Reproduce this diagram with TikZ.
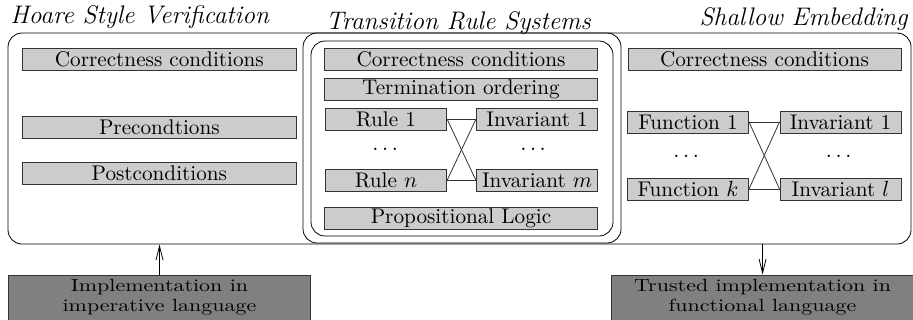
\documentclass[tikz,border=0pt]{standalone}
\usepackage{amsmath}
\usepackage{amssymb}
\usepackage{tikz}
\usepackage{xcolor}
\usetikzlibrary{positioning, arrows.meta}

\newcommand{\squashed}[1]{\scalebox{1.1}[0.88]{#1}}

\begin{document}
\begin{tikzpicture}[
                font=\fontsize{10.6}{12.7}\selectfont,
                cond_box/.style={rectangle, fill=black!20, draw=black!80, minimum height=11pt, inner sep=0pt, align=center},
                wide_box/.style={cond_box, minimum width=4.8cm},
                half_box/.style={cond_box, minimum width=2.13cm},
                impl_box/.style={rectangle, fill=black!50, draw=black!80, minimum width=5.3cm, minimum height=0.79cm, inner sep=0pt, align=center, font=\fontsize{10}{12}\selectfont},
                frame_box/.style={rectangle, draw, rounded corners=7pt, inner sep=0pt},
                title_text/.style={font=\fontsize{12.7}{15}\selectfont\itshape, inner sep=0pt},
                cross_line/.style={draw=black!80},
                impl_flow/.style={-{Straight Barb[length=7pt,width=3.5pt]}}
            ]
                \useasboundingbox (0,0) rectangle (16.044,-5.623);

                % Frames
                \node[frame_box, minimum width=15.868cm, minimum height=3.708cm] (env) at (8.075,-2.434) {};
                \node[frame_box, minimum width=5.588cm, minimum height=3.69cm] (trs_outer) at (8.119,-2.425) {};
                \node[frame_box, minimum width=5.307cm, minimum height=3.427cm] (trs_inner) at (8.119,-2.434) {};

                % Titles
                \node[title_text, anchor=base west] (hoare_title) at (0.176,-0.42) {Hoare Style Verification};
                \node[title_text, anchor=base west] (trs_title) at (5.72,-0.51) {Transition Rule Systems};
                \node[title_text, anchor=base east] (shallow_title) at (15.956,-0.44) {Shallow Embedding};

                % Hoare Style (Left)
                \node[wide_box] (h_corr) at (2.80,-1.040) {Correctness conditions};
                \node[wide_box] (h_pre) at (2.80,-2.232) {Precondtions};
                \node[wide_box] (h_post) at (2.80,-3.040) {Postconditions};

                % Transition Rules (Middle)
                \node[wide_box] (t_corr) at (8.101,-1.046) {Correctness conditions};
                \node[wide_box] (t_term) at (8.101,-1.564) {Termination ordering};
                \node[half_box] (rule1) at (6.783,-2.091) {Rule 1};
                \node[half_box] (t_inv1) at (9.437,-2.091) {Invariant 1};
                \node (rule_dots) at (6.80,-2.62) {$\dots$};
                \node (t_inv_dots) at (9.40,-2.62) {$\dots$};
                \node[half_box] (rulen) at (6.783,-3.172) {Rule $n$};
                \node[half_box] (t_invm) at (9.437,-3.172) {Invariant $m$};
                \node[wide_box] (t_logic) at (8.101,-3.831) {Propositional Logic};
                \draw[cross_line] (rule1.east) -- (t_inv1.west);
                \draw[cross_line] (rule1.east) -- (t_invm.west);
                \draw[cross_line] (rulen.east) -- (t_inv1.west);
                \draw[cross_line] (rulen.east) -- (t_invm.west);

                % Shallow Embedding (Right)
                \node[wide_box] (s_corr) at (13.435,-1.046) {Correctness conditions};
                \node[half_box] (fun1) at (12.090,-2.144) {Function 1};
                \node[half_box] (s_inv1) at (14.770,-2.144) {Invariant 1};
                \node (fun_dots) at (12.09,-2.74) {$\dots$};
                \node (s_inv_dots) at (14.77,-2.74) {$\dots$};
                \node[half_box] (funk) at (12.090,-3.321) {Function $k$};
                \node[half_box] (s_invl) at (14.770,-3.321) {Invariant $l$};
                \draw[cross_line] (fun1.east) -- (s_inv1.west);
                \draw[cross_line] (fun1.east) -- (s_invl.west);
                \draw[cross_line] (funk.east) -- (s_inv1.west);
                \draw[cross_line] (funk.east) -- (s_invl.west);

                % Implementations
                \node[impl_box] (imp_impl) at (2.803,-5.228) {\squashed{Implementation in}\\[-2pt]\squashed{imperative language}};
                \node[impl_box] (fun_impl) at (13.40,-5.228) {\squashed{Trusted implementation in}\\[-2pt]\squashed{functional language}};
                \draw[impl_flow] (imp_impl.north) -- (imp_impl.north |- env.south);
                \draw[impl_flow] (env.south -| fun_impl.north) -- (fun_impl.north);

            \end{tikzpicture}
\end{document}
